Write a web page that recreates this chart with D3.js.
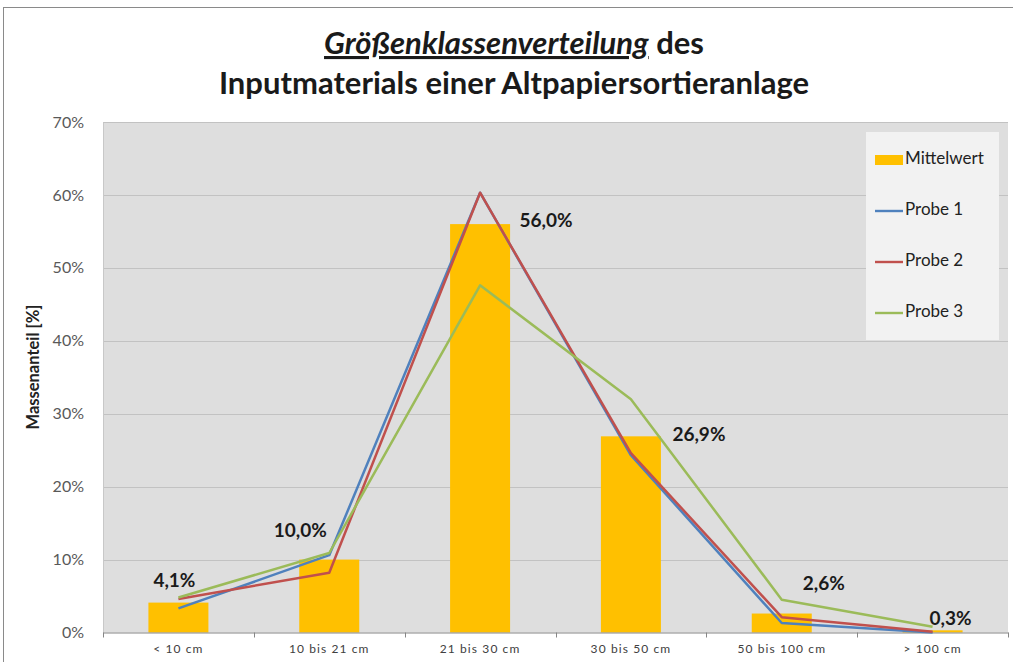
<!DOCTYPE html>
<html>
<head>
<meta charset="utf-8">
<script src="https://cdn.jsdelivr.net/npm/d3@7"></script>
<style>
  body { margin: 0; background: #fff; }
  svg { display: block; font-family: Lato, "Open Sans", sans-serif; }
</style>
</head>
<body>
<div id="chart"></div>
<script>
// data
const categories = ["< 10 cm", "10 bis 21 cm", "21 bis 30 cm", "30 bis 50 cm", "50 bis 100 cm", "> 100 cm"];
const mittelwert = [4.1, 10.0, 56.0, 26.9, 2.6, 0.3];
const probe1 = [3.3, 10.6, 60.3, 24.3, 1.3, 0.0];
const probe2 = [4.6, 8.2, 60.3, 24.6, 2.1, 0.1];
const probe3 = [4.8, 10.9, 47.6, 32.0, 4.5, 0.8];
const yTicks = [0, 10, 20, 30, 40, 50, 60, 70];

const series = [
  { name: "Probe 1", values: probe1, color: "#4f81bd" },
  { name: "Probe 2", values: probe2, color: "#c0504d" },
  { name: "Probe 3", values: probe3, color: "#9bbb59" }
];

// label placement relative to bar (excel put them a bit all over the place)
const labelShift = [[-4, -20], [-29, -27], [66, -2], [68, 0], [42, -28], [18, -10]];

const width = 1013, height = 662;
const margin = { left: 103, right: 5, top: 122, bottom: 29 };

const svg = d3.select("#chart").append("svg")
  .attr("width", width)
  .attr("height", height);

// outer chart frame
svg.append("rect")
  .attr("x", 3.5).attr("y", 7.5)
  .attr("width", 1030).attr("height", 680)
  .attr("fill", "#fff")
  .attr("stroke", "#8a8a8a");

const x = d3.scaleBand()
  .domain(categories)
  .range([margin.left, width - margin.right]);

const y = d3.scaleLinear()
  .domain([0, 70])
  .range([height - margin.bottom - 0.5, margin.top]);

// plot area
svg.append("rect")
  .attr("x", margin.left).attr("y", margin.top)
  .attr("width", width - margin.right - margin.left)
  .attr("height", y(0) - margin.top)
  .attr("fill", "#dedede");

// grid
svg.append("g")
  .selectAll("line")
  .data(yTicks.slice(1))
  .join("line")
  .attr("x1", margin.left).attr("x2", width - margin.right)
  .attr("y1", d => Math.round(y(d)) + 0.5)
  .attr("y2", d => Math.round(y(d)) + 0.5)
  .attr("stroke", "#c2c2c2");

// y axis
const yAxis = svg.append("g")
  .attr("transform", `translate(${margin.left},0)`)
  .call(d3.axisLeft(y).tickValues(yTicks).tickFormat(d => d + "%").tickSize(0).tickPadding(19));
yAxis.select(".domain").attr("stroke", "#c8c8c8");
yAxis.selectAll("text")
  .attr("fill", "#595959")
  .style("font-size", "16px")
  .style("font-family", "Lato, sans-serif");

svg.append("text")
  .attr("transform", `translate(39,367) rotate(-90)`)
  .attr("text-anchor", "middle")
  .style("font-size", "16.5px")
  .style("font-weight", "bold")
  .attr("fill", "#222")
  .text("Massenanteil [%]");

// bars
const barW = 60;
svg.append("g")
  .selectAll("rect")
  .data(mittelwert)
  .join("rect")
  .attr("x", (d, i) => x(categories[i]) + x.bandwidth() / 2 - barW / 2)
  .attr("y", d => y(d))
  .attr("width", barW)
  .attr("height", d => y(0) - y(d))
  .attr("fill", "#ffc000");

// x axis
const xAxis = svg.append("g")
  .attr("transform", `translate(0,${y(0)})`)
  .call(d3.axisBottom(x).tickSize(0).tickPadding(12));
xAxis.select(".domain").attr("stroke", "#868686");
xAxis.selectAll("text")
  .attr("fill", "#404040")
  .style("font-size", "12px")
  .style("letter-spacing", "1.1px")
  .style("font-family", "Lato, sans-serif");

// ticks at the band boundaries
svg.append("g")
  .selectAll("line")
  .data(d3.range(categories.length + 1))
  .join("line")
  .attr("x1", i => Math.round(margin.left + i * x.step()) + 0.5)
  .attr("x2", i => Math.round(margin.left + i * x.step()) + 0.5)
  .attr("y1", y(0))
  .attr("y2", y(0) + 5)
  .attr("stroke", "#868686");

// lines
const line = d3.line()
  .x((d, i) => x(categories[i]) + x.bandwidth() / 2)
  .y(d => y(d));

svg.append("g")
  .selectAll("path")
  .data(series)
  .join("path")
  .attr("d", s => line(s.values))
  .attr("fill", "none")
  .attr("stroke", s => s.color)
  .attr("stroke-width", 2.5)
  .attr("stroke-linejoin", "round");

// value labels
svg.append("g")
  .selectAll("text")
  .data(mittelwert)
  .join("text")
  .attr("x", (d, i) => x(categories[i]) + x.bandwidth() / 2 + labelShift[i][0])
  .attr("y", (d, i) => y(d) + labelShift[i][1])
  .attr("text-anchor", "middle")
  .attr("dominant-baseline", "middle")
  .style("font-size", "19px")
  .style("font-weight", "bold")
  .attr("fill", "#1a1a1a")
  .text(d => d.toFixed(1).replace(".", ",") + "%");

// legend
const lg = svg.append("g").attr("transform", "translate(866,132)");
lg.append("rect")
  .attr("width", 133).attr("height", 208)
  .attr("fill", "#f2f2f2");

const legendItems = [{ name: "Mittelwert", color: "#ffc000", bar: true }].concat(series);
const li = lg.selectAll("g.item")
  .data(legendItems)
  .join("g")
  .attr("class", "item")
  .attr("transform", (d, i) => `translate(0,${28 + i * 51})`);

li.append("rect")
  .attr("x", 9)
  .attr("y", d => d.bar ? -5 : -1.2)
  .attr("width", 28)
  .attr("height", d => d.bar ? 10 : 2.4)
  .attr("fill", d => d.color);

li.append("text")
  .attr("x", 39)
  .attr("dominant-baseline", "middle")
  .style("font-size", "17px")
  .attr("fill", "#222")
  .text(d => d.name);

// title
const title = svg.append("text")
  .attr("x", 514)
  .attr("text-anchor", "middle")
  .style("font-size", "31px")
  .style("font-weight", "bold")
  .attr("fill", "#1a1a1a");
const t1 = title.append("tspan").attr("x", 514).attr("y", 54);
t1.append("tspan")
  .style("font-style", "italic")
  .style("text-decoration", "underline")
  .text("Größenklassenverteilung");
t1.append("tspan").text(" des");
title.append("tspan").attr("x", 514).attr("y", 94).text("Inputmaterials einer Altpapiersortieranlage");
</script>
</body>
</html>
